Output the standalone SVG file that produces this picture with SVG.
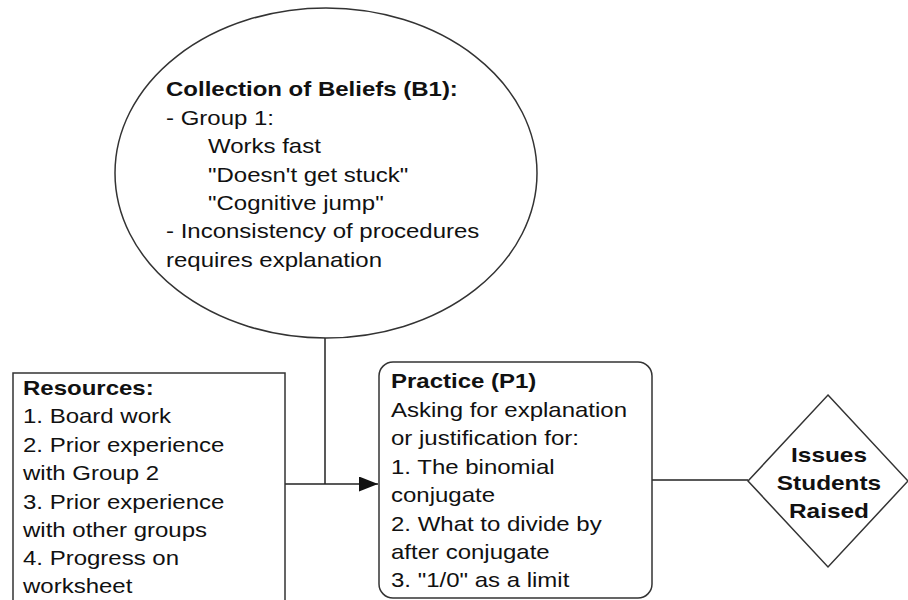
<svg xmlns="http://www.w3.org/2000/svg" width="908" height="600" viewBox="0 0 908 600">
  <defs>
    <style>
      .shape { fill: #ffffff; stroke: #333333; stroke-width: 1.5; }
      .edge { fill: none; stroke: #222222; stroke-width: 1.5; }
      text { font-family: "Liberation Sans", Arial, sans-serif; font-size: 20px; fill: #111111; }
      .b { font-weight: bold; }
    </style>
    <marker id="arrow" markerWidth="19" markerHeight="15" refX="19" refY="7.5" orient="auto" markerUnits="userSpaceOnUse" viewBox="0 0 19 15">
      <path d="M0,0 L19,7.5 L0,15 z" fill="#111111"/>
    </marker>
  </defs>
  <rect width="908" height="600" fill="#ffffff"/>

  <g id="connectors">
    <line class="edge" x1="325" y1="338" x2="325" y2="484"/>
    <line class="edge" x1="285" y1="484" x2="378" y2="484" marker-end="url(#arrow)"/>
    <line class="edge" x1="652" y1="480" x2="748" y2="480"/>
  </g>

  <g id="beliefs">
    <ellipse class="shape" cx="326" cy="173" rx="211" ry="165"/>
    <!-- labels are drawn slightly wide: 20px type stretched 1.2x horizontally -->
    <g transform="translate(166,0) scale(1.2,1)">
      <text x="0" y="96" class="b">Collection of Beliefs (B1):</text>
      <text x="0" y="125">- Group 1:</text>
      <text x="35" y="153">Works fast</text>
      <text x="35" y="182">"Doesn't get stuck"</text>
      <text x="35" y="210">"Cognitive jump"</text>
      <text x="0" y="238">- Inconsistency of procedures</text>
      <text x="0" y="267">requires explanation</text>
    </g>
  </g>

  <g id="resources">
    <rect class="shape" x="13" y="373" width="272" height="240"/>
    <g transform="translate(23,0) scale(1.2,1)">
      <text x="0" y="395" class="b">Resources:</text>
      <text x="0" y="423">1. Board work</text>
      <text x="0" y="452">2. Prior experience</text>
      <text x="0" y="480">with Group 2</text>
      <text x="0" y="509">3. Prior experience</text>
      <text x="0" y="537">with other groups</text>
      <text x="0" y="565">4. Progress on</text>
      <text x="0" y="593">worksheet</text>
    </g>
  </g>

  <g id="practice">
    <rect class="shape" x="379" y="362" width="273" height="236" rx="14" ry="14"/>
    <g transform="translate(391,0) scale(1.2,1)">
      <text x="0" y="388" class="b">Practice (P1)</text>
      <text x="0" y="417">Asking for explanation</text>
      <text x="0" y="445">or justification for:</text>
      <text x="0" y="474">1. The binomial</text>
      <text x="0" y="502">conjugate</text>
      <text x="0" y="531">2. What to divide by</text>
      <text x="0" y="559">after conjugate</text>
      <text x="0" y="587">3. "1/0" as a limit</text>
    </g>
  </g>

  <g id="issues">
    <polygon class="shape" points="828,395 908,481 828,567 748,481"/>
    <g transform="translate(829,0) scale(1.22,1)">
      <text x="0" y="462" class="b" text-anchor="middle">Issues</text>
      <text x="0" y="490" class="b" text-anchor="middle">Students</text>
      <text x="0" y="518" class="b" text-anchor="middle">Raised</text>
    </g>
  </g>
</svg>
